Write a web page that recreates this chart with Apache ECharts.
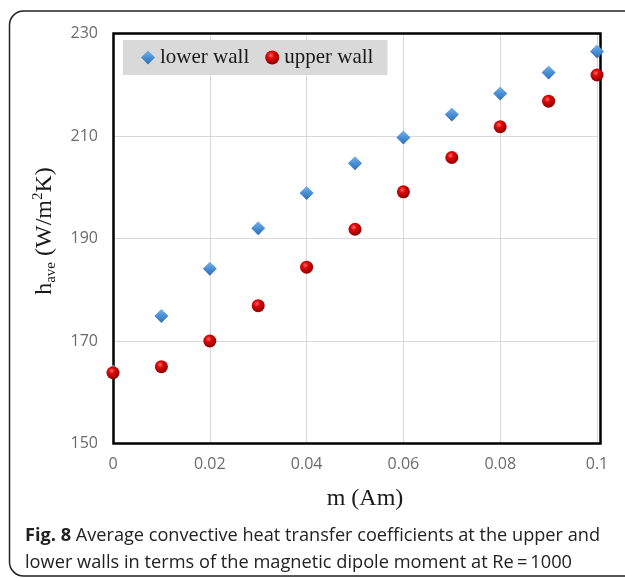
<!DOCTYPE html>
<html>
<head>
<meta charset="utf-8">
<script src="https://cdn.jsdelivr.net/npm/echarts@6/dist/echarts.min.js"></script>
<style>
html,body{margin:0;padding:0;background:#fff;}
#chart{width:625px;height:578px;}
</style>
</head>
<body>
<div id="chart"></div>
<script>
// ---- data ----
var mValues = [0, 0.01, 0.02, 0.03, 0.04, 0.05, 0.06, 0.07, 0.08, 0.09, 0.1];
var lowerWall = [164, 174.9, 184.1, 192.0, 198.9, 204.7, 209.7, 214.2, 218.3, 222.4, 226.5];
var upperWall = [163.8, 165.0, 170.0, 176.9, 184.4, 191.8, 199.1, 205.8, 211.8, 216.8, 221.9];
var yTicks = {min: 150, max: 230, interval: 20};
var xTicks = {min: 0, max: 0.1, interval: 0.02};
var seriesNames = ['lower wall', 'upper wall'];
var captionLine1Bold = 'Fig. 8';
var captionLine1 = ' Average convective heat transfer coefficients at the upper and';
var captionLine2 = 'lower walls in terms of the magnetic dipole moment at Re\u2009=\u20091000';

function pairs(xs, ys) { return xs.map(function (x, i) { return [x, ys[i]]; }); }

// measure caption widths to fit the original layout
var cv = document.createElement('canvas').getContext('2d');
var capFont = 18;
cv.font = 'bold ' + capFont + 'px "Open Sans"';
var wB = cv.measureText(captionLine1Bold).width;
cv.font = capFont + 'px "Open Sans"';
var w1 = wB + cv.measureText(captionLine1).width;
var w2 = cv.measureText(captionLine2).width;
var sx1 = 575 / w1, sx2 = 547 / w2;

var chart = echarts.init(document.getElementById('chart'), null, {renderer: 'canvas'});

var diamondColor = {
  type: 'linear', x: 0, y: 0, x2: 0, y2: 1,
  colorStops: [{offset: 0, color: '#7ab4ea'}, {offset: 0.5, color: '#4a8fd6'}, {offset: 1, color: '#2f6fb8'}]
};
var circleColor = {
  type: 'radial', x: 0.4, y: 0.35, r: 0.65,
  colorStops: [{offset: 0, color: '#ff6a6a'}, {offset: 0.35, color: '#e00808'}, {offset: 1, color: '#8a0000'}]
};

chart.setOption({
  animation: false,
  grid: {left: 113, right: 28, top: 33.5, bottom: 134.5, containLabel: false},
  legend: {
    left: 123, top: 40,
    padding: [7, 14, 7, 18],
    backgroundColor: '#d9d9d9',
    itemWidth: 14, itemHeight: 14, itemGap: 16,
    textStyle: {fontFamily: '"Liberation Serif", "Times New Roman", serif', fontSize: 21, color: '#1a1a1a', lineHeight: 21},
    data: [{name: seriesNames[0], icon: 'diamond'}, {name: seriesNames[1], icon: 'circle'}]
  },
  xAxis: {
    type: 'value', min: xTicks.min, max: xTicks.max, interval: xTicks.interval,
    axisLine: {show: false}, axisTick: {show: false},
    splitLine: {show: true, lineStyle: {color: '#d9d9d9', width: 1}},
    axisLabel: {
      color: '#6b6b6b', fontSize: 16, fontFamily: '"Open Sans", sans-serif', margin: 13,
      formatter: function (v) { return String(+v.toFixed(2)); }
    }
  },
  yAxis: {
    type: 'value', min: yTicks.min, max: yTicks.max, interval: yTicks.interval,
    axisLine: {show: false}, axisTick: {show: false},
    splitLine: {show: true, lineStyle: {color: '#d9d9d9', width: 1}},
    axisLabel: {color: '#6b6b6b', fontSize: 16, fontFamily: '"Open Sans", sans-serif', margin: 15}
  },
  series: [
    {
      name: seriesNames[0], type: 'scatter', symbol: 'diamond', symbolSize: 14,
      itemStyle: {color: diamondColor, opacity: 1},
      data: pairs(mValues, lowerWall), z: 3
    },
    {
      name: seriesNames[1], type: 'scatter', symbol: 'circle', symbolSize: 13,
      itemStyle: {color: circleColor, opacity: 1},
      data: pairs(mValues, upperWall), z: 4
    }
  ],
  graphic: [
    {type: 'rect', z: 1, silent: true,
      shape: {x: 9.5, y: 11, width: 680, height: 565, r: 14},
      style: {fill: 'none', stroke: '#222', lineWidth: 1.5}},
    {type: 'rect', z: 2, silent: true,
      shape: {x: 113.5, y: 33.5, width: 487, height: 410},
      style: {fill: 'none', stroke: '#000', lineWidth: 2.5}},
    {type: 'text', z: 5, x: 365, y: 499,
      style: {text: 'm (Am)', font: '24px "Liberation Serif", serif', fill: '#1a1a1a', align: 'center', verticalAlign: 'middle'}},
    {type: 'text', z: 5, x: 45, y: 231, rotation: Math.PI / 2,
      style: {
        text: '{m|h}{s|ave}{m| (W/m}{p|2}{m|K)}',
        align: 'center', verticalAlign: 'middle', fill: '#1a1a1a',
        rich: {
          m: {fontFamily: '"Liberation Serif", serif', fontSize: 24, lineHeight: 28, fill: '#1a1a1a'},
          s: {fontFamily: '"Liberation Serif", serif', fontSize: 15, lineHeight: 15, verticalAlign: 'bottom', fill: '#1a1a1a'},
          p: {fontFamily: '"Liberation Serif", serif', fontSize: 15, lineHeight: 15, verticalAlign: 'top', fill: '#1a1a1a'}
        }
      }},
    {type: 'text', z: 5, x: 25, y: 535.6, scaleX: sx1,
      style: {
        text: '{b|' + captionLine1Bold + '}{r|' + captionLine1 + '}',
        align: 'left', verticalAlign: 'middle',
        rich: {
          b: {fontFamily: '"Open Sans", sans-serif', fontWeight: 'bold', fontSize: capFont, fill: '#222'},
          r: {fontFamily: '"Open Sans", sans-serif', fontSize: capFont, fill: '#222'}
        }
      }},
    {type: 'text', z: 5, x: 25, y: 562.6, scaleX: sx2,
      style: {text: captionLine2, font: capFont + 'px "Open Sans", sans-serif', fill: '#222', align: 'left', verticalAlign: 'middle'}}
  ]
});
</script>
</body>
</html>
